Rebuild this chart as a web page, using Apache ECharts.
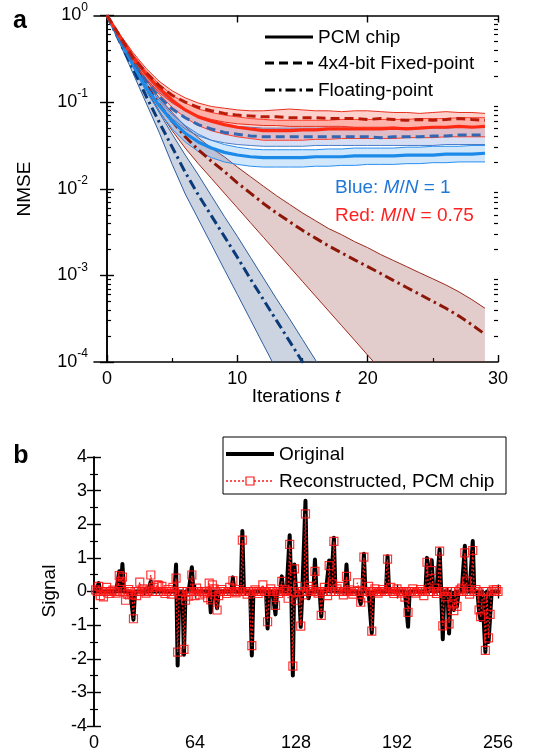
<!DOCTYPE html>
<html><head><meta charset="utf-8">
<script src="https://cdn.jsdelivr.net/npm/echarts@6/dist/echarts.min.js"></script>
<style>html,body{margin:0;padding:0;background:#fff}#c{width:547px;height:756px}</style>
</head><body><div id="c"></div>
<script>
const FONT = '"Liberation Sans", Arial, sans-serif';

// ---------- Panel a: NMSE vs iterations ----------
const tIter = [0,1,2,3,4,5,6,7,8,9,10,11,12,13,14,15,16,17,18,19,20,21,22,23,24,25,26,27,28,29];
const xTickLabels = [0, 10, 20, 30];

// Floating-point, M/N = 1 (navy)
const blueFloat   = [1,0.490,0.240,0.117,0.0589,0.0302,0.0155,0.00851,0.00490,0.00282,0.00162,0.000912,0.000525,0.000302,0.000174,0.0001,0.0000575,0.0000331];
const blueFloatHi = [1,0.513,0.269,0.141,0.0759,0.0427,0.0245,0.0145,0.00832,0.00479,0.00282,0.00162,0.000933,0.000537,0.000316,0.000182,0.000105,0.0000603];
const blueFloatLo = [1,0.468,0.214,0.0977,0.0447,0.0191,0.00871,0.00447,0.00229,0.00117,0.000603,0.000309,0.000158,0.0000813,0.0000417];

// Floating-point, M/N = 0.75 (dark red)
const redFloat   = [1,0.525,0.282,0.158,0.0933,0.0603,0.0398,0.0282,0.0209,0.0158,0.0117,0.00891,0.00676,0.00525,0.00417,0.00331,0.00269,0.00219,0.00182,0.00151,0.00126,0.00105,0.000871,0.000724,0.000603,0.000501,0.000417,0.000339,0.000269,0.000209];
const redFloatHi = [1,0.550,0.309,0.182,0.112,0.0759,0.0525,0.0389,0.0295,0.0234,0.0178,0.0138,0.0107,0.00832,0.00661,0.00525,0.00427,0.00347,0.00295,0.00245,0.00209,0.00174,0.00148,0.00126,0.00107,0.000912,0.000776,0.000646,0.000525,0.000417];
const redFloatLo = [1,0.513,0.263,0.141,0.0794,0.0468,0.0295,0.0195,0.0132,0.00891,0.00603,0.00407,0.00275,0.00186,0.00126,0.000851,0.000575,0.000389,0.000263,0.000178,0.000120,0.0000813,0.0000550,0.0000372,0.0000251,0.0000170,0.0000115,0.00000776,0.00000525,0.00000355];

// 4x4-bit fixed-point, M/N = 0.75
const redFixed   = [1,0.575,0.324,0.219,0.155,0.120,0.100,0.0871,0.0794,0.0741,0.0708,0.0692,0.0676,0.0676,0.0661,0.0661,0.0661,0.0646,0.0646,0.0646,0.0631,0.0646,0.0631,0.0617,0.0631,0.0617,0.0631,0.0646,0.0631,0.0617];
const redFixedHi = [1,0.603,0.372,0.245,0.174,0.135,0.112,0.0977,0.0891,0.0851,0.0813,0.0794,0.0794,0.0813,0.0832,0.0813,0.0794,0.0794,0.0776,0.0794,0.0794,0.0776,0.0759,0.0759,0.0741,0.0759,0.0776,0.0759,0.0759,0.0741];
const redFixedLo = [1,0.550,0.288,0.186,0.129,0.0977,0.0794,0.0692,0.0631,0.0589,0.0562,0.0550,0.0537,0.0537,0.0525,0.0525,0.0525,0.0525,0.0525,0.0513,0.0513,0.0513,0.0513,0.0501,0.0513,0.0513,0.0513,0.0525,0.0525,0.0513];

// PCM chip, M/N = 0.75
const redPcm   = [1,0.562,0.331,0.209,0.145,0.105,0.0813,0.0676,0.0603,0.0550,0.0513,0.0490,0.0468,0.0468,0.0468,0.0479,0.0479,0.0490,0.0490,0.0490,0.0490,0.0490,0.0501,0.0490,0.0501,0.0513,0.0513,0.0525,0.0513,0.0525];
const redPcmHi = [1,0.589,0.355,0.229,0.162,0.120,0.0977,0.0832,0.0759,0.0708,0.0676,0.0646,0.0631,0.0617,0.0617,0.0617,0.0617,0.0617,0.0631,0.0631,0.0631,0.0631,0.0631,0.0631,0.0646,0.0646,0.0646,0.0661,0.0661,0.0661];
const redPcmLo = [1,0.537,0.302,0.186,0.123,0.0871,0.0661,0.0537,0.0468,0.0427,0.0398,0.0380,0.0363,0.0363,0.0363,0.0363,0.0372,0.0372,0.0380,0.0380,0.0380,0.0380,0.0380,0.0389,0.0389,0.0389,0.0398,0.0398,0.0398,0.0398];

// 4x4-bit fixed-point, M/N = 1
const blueFixed   = [1,0.537,0.295,0.174,0.115,0.0832,0.0661,0.0550,0.0490,0.0447,0.0427,0.0407,0.0398,0.0398,0.0398,0.0398,0.0398,0.0398,0.0398,0.0398,0.0398,0.0389,0.0398,0.0398,0.0398,0.0407,0.0407,0.0417,0.0417,0.0417];
const blueFixedHi = [1,0.562,0.324,0.200,0.135,0.100,0.0794,0.0676,0.0603,0.0550,0.0525,0.0513,0.0501,0.0501,0.0501,0.0501,0.0501,0.0501,0.0501,0.0501,0.0490,0.0490,0.0501,0.0501,0.0501,0.0501,0.0501,0.0513,0.0513,0.0513];
const blueFixedLo = [1,0.513,0.269,0.151,0.0933,0.0646,0.0490,0.0407,0.0363,0.0339,0.0324,0.0316,0.0309,0.0309,0.0309,0.0309,0.0316,0.0316,0.0316,0.0316,0.0316,0.0316,0.0316,0.0316,0.0316,0.0316,0.0324,0.0324,0.0324,0.0324];

// PCM chip, M/N = 1
const bluePcm   = [1,0.513,0.269,0.148,0.0912,0.0603,0.0437,0.0347,0.0295,0.0263,0.0245,0.0234,0.0229,0.0229,0.0229,0.0229,0.0234,0.0234,0.0234,0.0240,0.0240,0.0240,0.0240,0.0245,0.0245,0.0245,0.0251,0.0251,0.0251,0.0257];
const bluePcmHi = [1,0.537,0.288,0.166,0.105,0.0724,0.0537,0.0427,0.0363,0.0324,0.0302,0.0288,0.0282,0.0282,0.0282,0.0282,0.0282,0.0288,0.0288,0.0295,0.0295,0.0295,0.0295,0.0302,0.0302,0.0309,0.0309,0.0309,0.0316,0.0316];
const bluePcmLo = [1,0.490,0.251,0.132,0.0776,0.0490,0.0347,0.0269,0.0229,0.0204,0.0191,0.0182,0.0178,0.0178,0.0178,0.0178,0.0182,0.0182,0.0186,0.0186,0.0191,0.0191,0.0191,0.0195,0.0195,0.0200,0.0200,0.0204,0.0204,0.0204];

// ---------- Panel b: sparse signal ----------
const sigXTicks = [0, 64, 128, 192, 256];
const spikePos  = [3,16,18,25,36,52,53,57,62,74,78,88,94,100,110,115,119,124,126,127,131,134,136,140,144,149,152,160,169,171,176,186,199,211,214,219,221,225,228,230,235,240,244,245,248,250,251];
const origVals  = [0.25,0.6,0.82,-0.84,0.3,0.8,-2.2,-1.88,0.72,-0.62,-0.5,0.42,1.8,-1.9,-1.1,-0.68,0.45,1.67,-2.5,0.8,-1.05,2.7,-0.2,0.95,-0.75,0.92,1.6,0.8,-0.37,1.12,-1.24,1.05,-1.05,1.0,0.93,1.26,-1.42,-1.25,-0.55,-0.45,1.36,1.5,-0.6,-0.85,-1.8,-1.5,-0.75];
const reconVals = [0.15,0.47,0.43,-0.81,0.49,0.4,-1.8,-1.72,0.49,-0.25,-0.55,0.32,1.53,-1.61,-0.9,-0.41,0.3,1.4,-2.22,0.67,-1.03,2.31,0.15,0.6,-0.71,0.77,1.49,0.45,-0.32,1.02,-1.18,0.96,-0.62,0.87,0.62,1.2,-1.02,-0.96,-0.57,-0.44,1.15,1.22,-0.55,-0.75,-1.75,-1.38,-0.68];
const reconNoisePos  = [1,4,6,8,10,12,14,17,20,21,22,24,27,29,31,33,35,38,40,41,43,45,47,49,50,55,58,60,64,65,67,70,72,73,75,76,79,81,84,86,90,92,97,102,104,107,112,117,121,123,128,129,133,138,142,146,148,151,154,156,158,162,164,167,173,174,178,180,183,188,190,192,195,197,202,204,207,209,216,217,223,227,232,233,236,238,242,246,253,255];
const reconNoiseVals = [0.05,-0.12,-0.16,0.12,-0.06,0.04,-0.05,0.3,-0.26,-0.08,0.06,-0.1,-0.12,0.28,0.08,-0.05,0.04,0.12,0.2,0.18,0.15,-0.06,0.06,-0.08,0.12,-0.1,-0.26,-0.14,-0.12,0.1,-0.1,-0.05,-0.18,0.25,0.2,0.08,-0.12,0.06,-0.06,0.12,-0.04,0.06,-0.08,0.05,-0.06,0.2,0.08,-0.06,0.05,-0.2,-0.26,0.15,-0.1,0.06,-0.05,0.12,-0.12,0.23,0.08,0.15,-0.1,0.05,-0.08,0.26,-0.19,0.15,0.08,-0.05,0.06,0.12,-0.06,0.08,-0.05,-0.17,0.08,-0.05,0.06,-0.12,0.1,-0.06,-0.15,-0.37,0.05,0.1,0.31,-0.08,0.06,-0.2,0.05,0.06];

const NPTS = 256;
const original = [], reconstructed = [];
for (let k = 1; k <= NPTS; k++) { original.push([k, 0]); reconstructed.push([k, 0]); }
spikePos.forEach((p, i) => { original[p - 1][1] = origVals[i]; reconstructed[p - 1][1] = reconVals[i]; });
reconNoisePos.forEach((p, i) => { reconstructed[p - 1][1] = reconNoiseVals[i]; });

// ---------- helpers ----------
function band(upper, lower, fill, edge) {
  return {
    type: 'custom', xAxisIndex: 0, yAxisIndex: 0, silent: true, z: 2,
    data: [[0, 1]],
    renderItem: function (params, api) {
      const up = upper.map((v, i) => api.coord([tIter[i], v]));
      const lo = lower.map((v, i) => api.coord([tIter[i], v]));
      const cs = params.coordSys;
      return {
        type: 'group',
        clipPath: { type: 'rect', shape: { x: cs.x, y: cs.y, width: cs.width, height: cs.height } },
        children: [
          { type: 'polygon', shape: { points: up.concat(lo.slice().reverse()) }, style: { fill: fill } },
          { type: 'polyline', shape: { points: up }, style: { fill: null, stroke: edge, lineWidth: 1 } },
          { type: 'polyline', shape: { points: lo }, style: { fill: null, stroke: edge, lineWidth: 1 } }
        ]
      };
    }
  };
}
function curve(vals, color, width, dash) {
  return {
    type: 'line', xAxisIndex: 0, yAxisIndex: 0, silent: true, z: 3,
    data: vals.map((v, i) => [tIter[i], v]),
    showSymbol: false, symbol: 'none', clip: true,
    lineStyle: { color: color, width: width, type: dash || 'solid', cap: 'butt' }
  };
}
const DASH = [9, 5];
const DASHDOT = [10, 4, 2.5, 4];

const minorLog = [];
[1e-4, 1e-3, 1e-2, 1e-1].forEach(d => { for (let m = 2; m <= 9; m++) minorLog.push(+(m * d).toPrecision(3)); });

const axLine = { show: true, lineStyle: { color: '#000', width: 1.6 } };
const noLine = { show: false };
const lbl = { color: '#000', fontSize: 18, fontFamily: FONT };

const chart = echarts.init(document.getElementById('c'), null, { renderer: 'canvas' });
chart.setOption({
  animation: false,
  backgroundColor: '#fff',
  grid: [
    { left: 94, top: 15.5, right: 49, bottom: 394, outerBoundsMode: 'none', containLabel: false },
    { left: 94, top: 457, right: 49, bottom: 30, outerBoundsMode: 'none', containLabel: false }
  ],
  xAxis: [
    { gridIndex: 0, type: 'value', position: 'bottom', min: -1, max: 30, axisLine: axLine, splitLine: { show: false },
      axisTick: { show: true, inside: true, length: 7, lineStyle: { color: '#000', width: 1.4 }, customValues: xTickLabels },
      axisLabel: Object.assign({ margin: 8, customValues: xTickLabels }, lbl) },
    { gridIndex: 0, type: 'value', position: 'bottom', min: -1, max: 30, axisLine: noLine, splitLine: { show: false },
      axisTick: { show: true, inside: true, length: 4, lineStyle: { color: '#000', width: 1.2 }, customValues: [5, 15, 25] },
      axisLabel: { show: false } },
    { gridIndex: 0, type: 'value', position: 'top', min: -1, max: 30, axisLine: axLine, splitLine: { show: false },
      axisTick: { show: true, inside: true, length: 7, lineStyle: { color: '#000', width: 1.4 }, customValues: xTickLabels },
      axisLabel: { show: false } },
    { gridIndex: 1, type: 'value', position: 'bottom', min: 0, max: 256, interval: 64, axisLine: axLine, splitLine: { show: false },
      axisTick: { show: true, inside: true, length: 7, lineStyle: { color: '#000', width: 1.4 } },
      minorTick: { show: true, splitNumber: 2, length: 4, lineStyle: { color: '#000', width: 1.2 } },
      minorSplitLine: { show: false },
      axisLabel: Object.assign({ margin: 8, customValues: sigXTicks }, lbl) },
    { gridIndex: 1, type: 'value', position: 'top', min: 0, max: 256, interval: 64, axisLine: axLine, splitLine: { show: false },
      axisTick: { show: true, inside: true, length: 7, lineStyle: { color: '#000', width: 1.4 } },
      minorTick: { show: true, splitNumber: 2, length: 4, lineStyle: { color: '#000', width: 1.2 } },
      axisLabel: { show: false } }
  ],
  yAxis: [
    { gridIndex: 0, type: 'log', logBase: 10, position: 'left', min: 0.0001, max: 1, axisLine: axLine, splitLine: { show: false },
      axisTick: { show: true, inside: true, length: 7, lineStyle: { color: '#000', width: 1.4 } },
      axisLabel: { show: true, margin: 6, color: '#000',
        formatter: v => '{b|10}{s|' + Math.round(Math.log10(v)) + '}',
        rich: { b: { fontSize: 18, fontFamily: FONT, color: '#000', lineHeight: 28 },
                s: { fontSize: 12, fontFamily: FONT, color: '#000', verticalAlign: 'top', lineHeight: 12 } } } },
    { gridIndex: 0, type: 'log', logBase: 10, position: 'left', min: 0.0001, max: 1, axisLine: noLine, splitLine: { show: false },
      axisTick: { show: true, inside: true, length: 4, lineStyle: { color: '#000', width: 1.2 }, customValues: minorLog },
      axisLabel: { show: false } },
    { gridIndex: 0, type: 'log', logBase: 10, position: 'right', min: 0.0001, max: 1, axisLine: axLine, splitLine: { show: false },
      axisTick: { show: true, inside: true, length: 7, lineStyle: { color: '#000', width: 1.4 } },
      axisLabel: { show: false } },
    { gridIndex: 0, type: 'log', logBase: 10, position: 'right', min: 0.0001, max: 1, axisLine: noLine, splitLine: { show: false },
      axisTick: { show: true, inside: true, length: 4, lineStyle: { color: '#000', width: 1.2 }, customValues: minorLog },
      axisLabel: { show: false } },
    { gridIndex: 1, type: 'value', position: 'left', min: -4, max: 4, interval: 1, axisLine: axLine, splitLine: { show: false },
      axisTick: { show: true, inside: true, length: 7, lineStyle: { color: '#000', width: 1.4 } },
      minorTick: { show: true, splitNumber: 2, length: 4, lineStyle: { color: '#000', width: 1.2 } },
      minorSplitLine: { show: false },
      axisLabel: Object.assign({ margin: 7 }, lbl) },
    { gridIndex: 1, type: 'value', position: 'right', min: -4, max: 4, interval: 1, axisLine: axLine, splitLine: { show: false },
      axisTick: { show: true, inside: true, length: 7, lineStyle: { color: '#000', width: 1.4 } },
      minorTick: { show: true, splitNumber: 2, length: 4, lineStyle: { color: '#000', width: 1.2 } },
      axisLabel: { show: false } }
  ],
  series: [
    band(blueFloatHi, blueFloatLo, 'rgba(40,75,130,0.24)', '#2d5d9c'),
    band(redFloatHi, redFloatLo, 'rgba(140,40,40,0.24)', '#9a2a1c'),
    band(bluePcmHi, bluePcmLo, 'rgba(70,160,245,0.25)', '#2b8fef'),
    band(blueFixedHi, blueFixedLo, 'rgba(70,110,200,0.22)', '#4a7cc8'),
    band(redPcmHi, redPcmLo, 'rgba(255,70,50,0.22)', '#ff3b2a'),
    band(redFixedHi, redFixedLo, 'rgba(255,70,50,0.25)', '#e8301f'),
    curve(blueFloat, '#0b3a78', 3, DASHDOT),
    curve(redFloat, '#8c1608', 3, DASHDOT),
    curve(bluePcm, '#1c8ae8', 3.2),
    curve(blueFixed, '#3566b0', 3, DASH),
    curve(redPcm, '#ff2a14', 3.2),
    curve(redFixed, '#b81c0a', 3, DASH),
    { type: 'line', xAxisIndex: 3, yAxisIndex: 4, silent: true, z: 3, data: original,
      showSymbol: false, symbol: 'none', lineStyle: { color: '#000', width: 4, join: 'round', cap: 'round' } },
    { type: 'line', xAxisIndex: 3, yAxisIndex: 4, silent: true, z: 4, data: reconstructed,
      symbol: 'rect', symbolSize: 8, showSymbol: true, showAllSymbol: true,
      itemStyle: { color: 'rgba(0,0,0,0)', borderColor: 'rgba(255,20,20,0.85)', borderWidth: 1.2 },
      lineStyle: { color: '#ff1a1a', width: 1.3, type: [2, 2] } }
  ],
  graphic: [
    { type: 'text', x: 20, y: 21, z: 100, style: { text: 'a', font: 'bold 25px ' + FONT, fill: '#000', align: 'center', verticalAlign: 'middle', textAlign: 'center', textVerticalAlign: 'middle' } },
    { type: 'text', x: 21, y: 456, z: 100, style: { text: 'b', font: 'bold 25px ' + FONT, fill: '#000', align: 'center', verticalAlign: 'middle', textAlign: 'center', textVerticalAlign: 'middle' } },
    { type: 'text', x: 25, y: 189, rotation: Math.PI / 2, z: 100, style: { text: 'NMSE', font: '19px ' + FONT, fill: '#000', align: 'center', verticalAlign: 'middle', textAlign: 'center', textVerticalAlign: 'middle' } },
    { type: 'text', x: 50, y: 591, rotation: Math.PI / 2, z: 100, style: { text: 'Signal', font: '19px ' + FONT, fill: '#000', align: 'center', verticalAlign: 'middle', textAlign: 'center', textVerticalAlign: 'middle' } },
    { type: 'text', x: 296, y: 397, z: 100, style: { text: '{n|Iterations }{i|t}', align: 'center', verticalAlign: 'middle', textAlign: 'center', textVerticalAlign: 'middle',
      rich: { n: { fontSize: 19, fontFamily: FONT, fill: '#000' }, i: { fontSize: 19, fontFamily: FONT, fontStyle: 'italic', fill: '#000' } } } },
    // legend a
    { type: 'line', z: 100, shape: { x1: 265, y1: 37, x2: 313, y2: 37 }, style: { stroke: '#000', lineWidth: 3 } },
    { type: 'text', x: 318, y: 38, z: 100, style: { text: 'PCM chip', font: '19px ' + FONT, fill: '#000', verticalAlign: 'middle', textVerticalAlign: 'middle' } },
    { type: 'line', z: 100, shape: { x1: 265, y1: 63, x2: 313, y2: 63 }, style: { stroke: '#000', lineWidth: 3, lineDash: [9, 5] } },
    { type: 'text', x: 318, y: 64, z: 100, style: { text: '4x4-bit Fixed-point', font: '19px ' + FONT, fill: '#000', verticalAlign: 'middle', textVerticalAlign: 'middle' } },
    { type: 'line', z: 100, shape: { x1: 265, y1: 90, x2: 313, y2: 90 }, style: { stroke: '#000', lineWidth: 3, lineDash: [10, 4, 2.5, 4] } },
    { type: 'text', x: 318, y: 91, z: 100, style: { text: 'Floating-point', font: '19px ' + FONT, fill: '#000', verticalAlign: 'middle', textVerticalAlign: 'middle' } },
    { type: 'text', x: 335, y: 188, z: 100, style: { text: '{n|Blue: }{i|M}{n|/}{i|N}{n| = 1}', verticalAlign: 'middle', textVerticalAlign: 'middle',
      rich: { n: { fontSize: 19, fontFamily: FONT, fill: '#1f78d8' }, i: { fontSize: 19, fontFamily: FONT, fontStyle: 'italic', fill: '#1f78d8' } } } },
    { type: 'text', x: 335, y: 216, z: 100, style: { text: '{n|Red: }{i|M}{n|/}{i|N}{n| = 0.75}', verticalAlign: 'middle', textVerticalAlign: 'middle',
      rich: { n: { fontSize: 19, fontFamily: FONT, fill: '#ff2020' }, i: { fontSize: 19, fontFamily: FONT, fontStyle: 'italic', fill: '#ff2020' } } } },
    // legend b
    { type: 'rect', z: 100, shape: { x: 223, y: 437, width: 283, height: 57 }, style: { fill: '#fff', stroke: '#000', lineWidth: 1 } },
    { type: 'line', z: 101, shape: { x1: 226, y1: 454, x2: 274, y2: 454 }, style: { stroke: '#000', lineWidth: 4 } },
    { type: 'text', x: 279, y: 455, z: 101, style: { text: 'Original', font: '19px ' + FONT, fill: '#000', verticalAlign: 'middle', textVerticalAlign: 'middle' } },
    { type: 'line', z: 101, shape: { x1: 226, y1: 481, x2: 274, y2: 481 }, style: { stroke: '#ff1a1a', lineWidth: 1.3, lineDash: [2, 2] } },
    { type: 'rect', z: 102, shape: { x: 246, y: 477, width: 8, height: 8 }, style: { fill: '#fff', stroke: '#ff1a1a', lineWidth: 1.2 } },
    { type: 'text', x: 279, y: 482, z: 101, style: { text: 'Reconstructed, PCM chip', font: '19px ' + FONT, fill: '#000', verticalAlign: 'middle', textVerticalAlign: 'middle' } }
  ]
});
</script>
</body></html>
